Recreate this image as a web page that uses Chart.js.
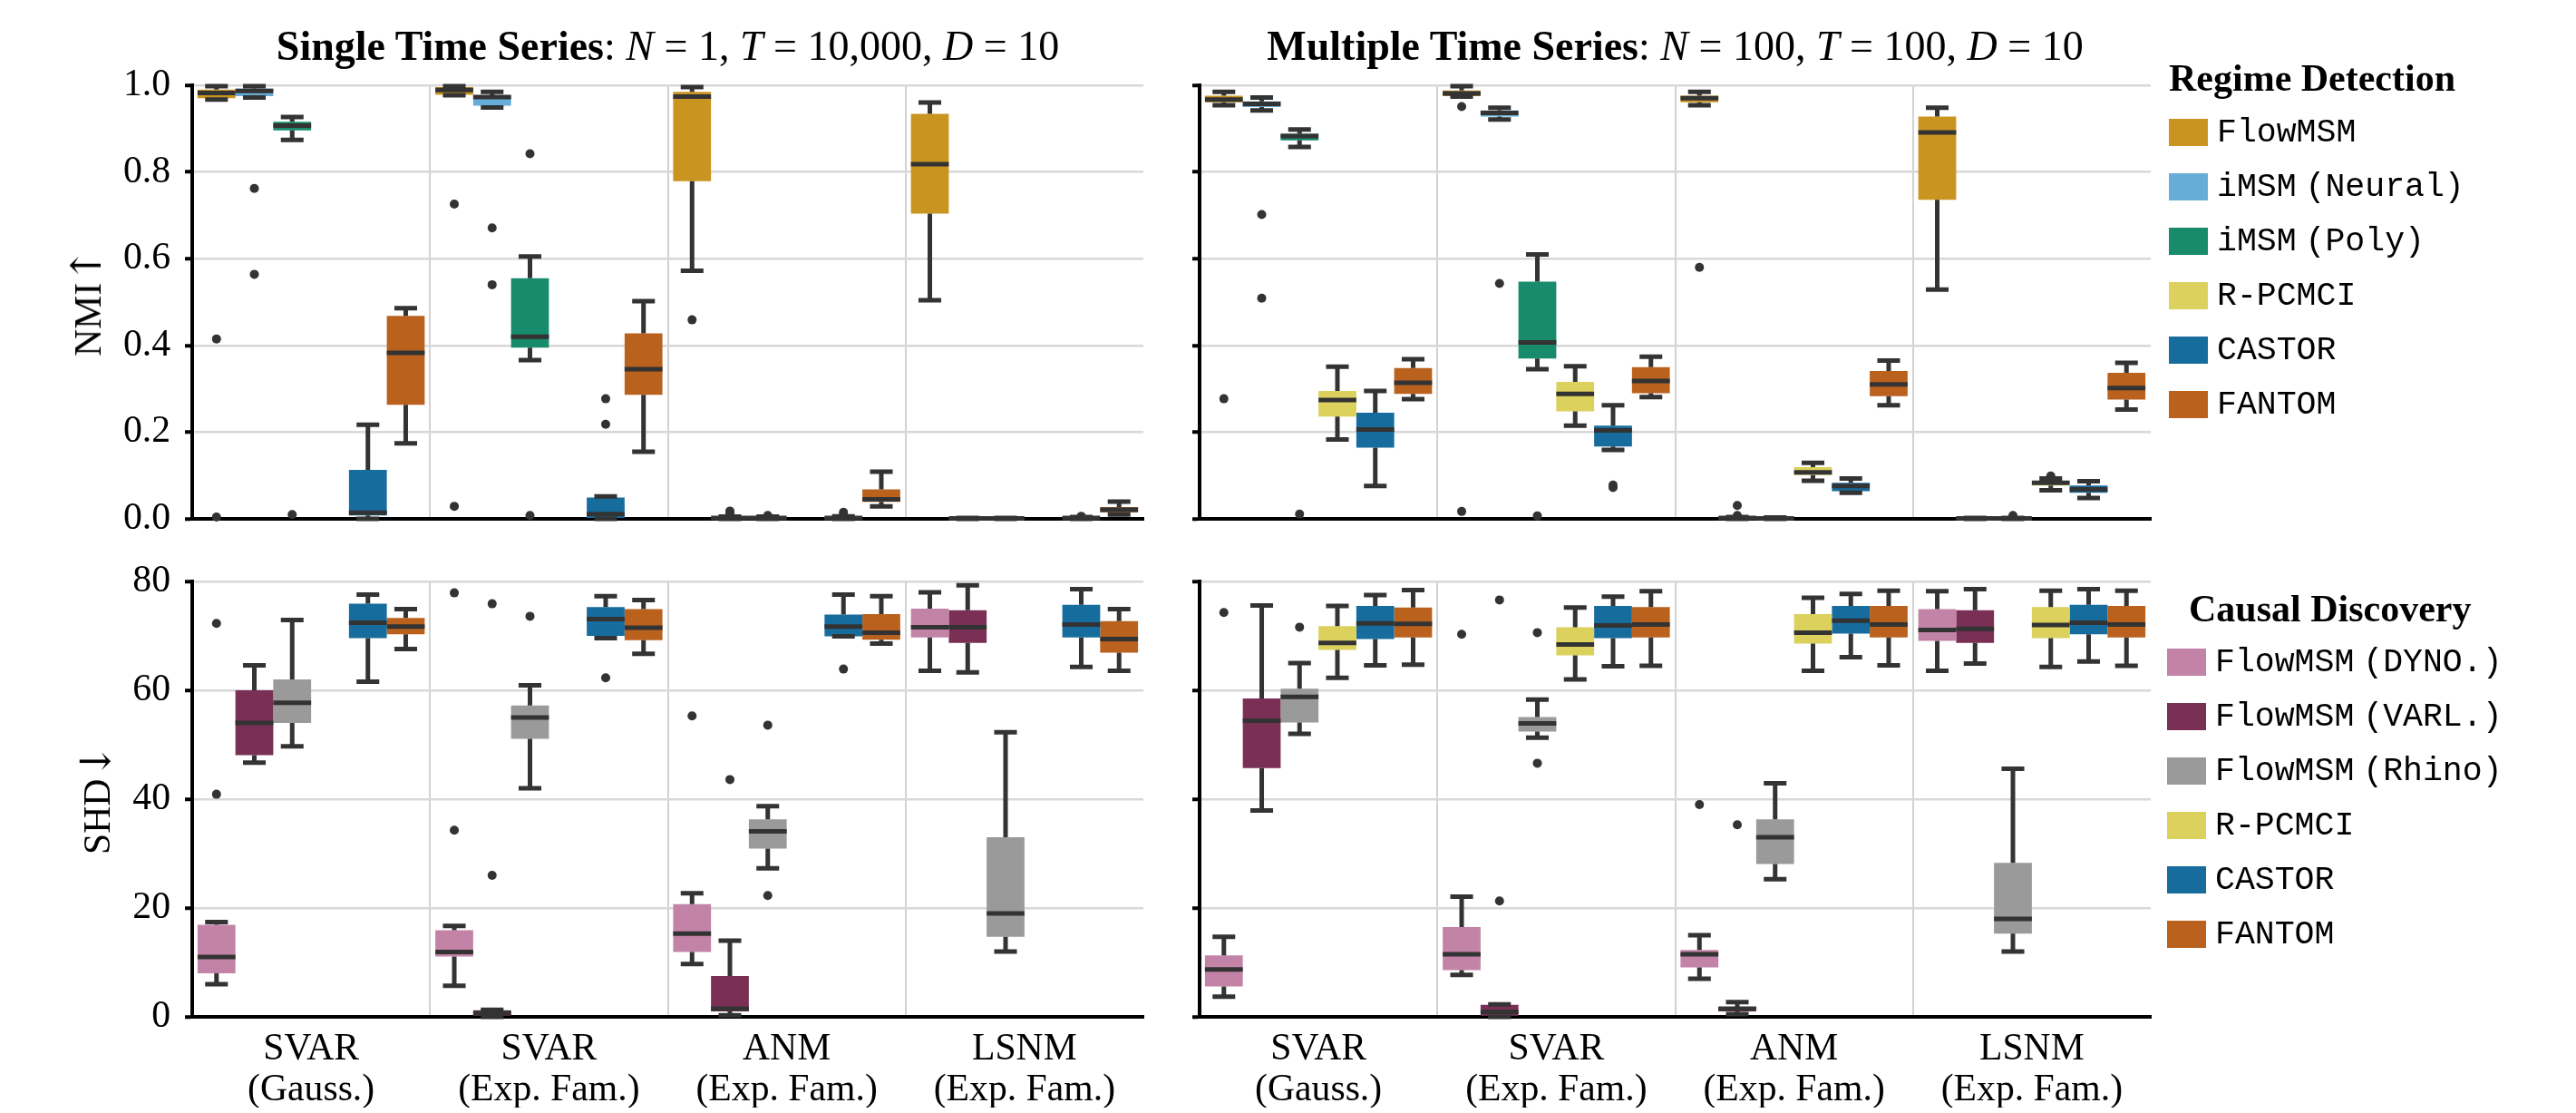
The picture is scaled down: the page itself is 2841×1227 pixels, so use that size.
<!DOCTYPE html>
<html>
<head>
<meta charset="utf-8">
<script src="https://cdn.jsdelivr.net/npm/chart.js@4.4.1/dist/chart.umd.min.js"></script>
<style>
  body { margin: 0; background: #fff; }
  #page { position: relative; width: 2841px; height: 1227px; overflow: hidden; }
  canvas.panel { position: absolute; left: 0; top: 0; pointer-events: none; }
  .title { position: absolute; top: 23px; height: 56px; line-height: 56px; text-align: center;
           font-family: 'Liberation Serif', serif; font-size: 46px; color: #000; white-space: nowrap; }
  .ylab { position: absolute; font-family: 'Liberation Serif', serif; font-size: 41.7px; line-height: 48px;
          color: #000; white-space: nowrap; transform: translate(-50%, -50%) rotate(-90deg); }
  .ylab .arr { font-family: 'DejaVu Serif', serif; font-size: 46px; }
  .legend { position: absolute; font-family: 'Liberation Serif', serif; color: #000; }
  .legend h3 { margin: 0; font-size: 42px; font-weight: bold; line-height: 48px; white-space: nowrap; }
  .legend .item { position: absolute; left: 0; height: 30px; display: flex; align-items: center; white-space: nowrap; }
  .legend .patch { width: 43px; height: 30px; margin-right: 10px; }
  .legend .lbl { font-family: 'Liberation Mono', monospace; font-size: 36.5px; word-spacing: -12px; }
</style>
</head>
<body>
<div id="page">
  <canvas class="panel" id="nmiSingleChart" width="2841" height="1227"></canvas>
  <canvas class="panel" id="nmiMultiChart" width="2841" height="1227"></canvas>
  <canvas class="panel" id="shdSingleChart" width="2841" height="1227"></canvas>
  <canvas class="panel" id="shdMultiChart" width="2841" height="1227"></canvas>
  <div class="title" style="left:212px;width:1049px"><b>Single Time Series</b>: <i>N</i> = 1, <i>T</i> = 10,000, <i>D</i> = 10</div>
  <div class="title" style="left:1323px;width:1049px"><b>Multiple Time Series</b>: <i>N</i> = 100, <i>T</i> = 100, <i>D</i> = 10</div>
  <div class="ylab" style="left:96px;top:333px">NMI<span class="arr">↑</span></div>
  <div class="ylab" style="left:106px;top:881px">SHD<span class="arr">↓</span></div>
  <div class="legend" id="regimeLegend" style="left:2392px;top:62px"></div>
  <div class="legend" id="causalLegend" style="left:2390px;top:647px"></div>
</div>
<script>
// --- data: each cell is [lower whisker, Q1, median, Q3, upper whisker] ---
const categories = [['SVAR', '(Gauss.)'], ['SVAR', '(Exp. Fam.)'], ['ANM', '(Exp. Fam.)'], ['LSNM', '(Exp. Fam.)']];

const regimeMethods = ['FlowMSM', 'iMSM (Neural)', 'iMSM (Poly)', 'R-PCMCI', 'CASTOR', 'FANTOM'];
const regimeColors = ['#c99520', '#66aed7', '#178b6b', '#dbd15c', '#176c9e', '#ba611e'];
const causalMethods = ['FlowMSM (DYNO.)', 'FlowMSM (VARL.)', 'FlowMSM (Rhino)', 'R-PCMCI', 'CASTOR', 'FANTOM'];
const causalColors = ['#c383a7', '#7a2f55', '#9a9a9a', '#dbd15c', '#176c9e', '#ba611e'];

const nmiTicks = [0, 0.2, 0.4, 0.6, 0.8, 1.0];
const shdTicks = [0, 20, 40, 60, 80];

const nmiSingle = [
  [[0.967, 0.970, 0.982, 0.990, 0.998], [0.977, 0.978, 0.989, 0.996, 0.998], [0.572, 0.779, 0.974, 0.985, 0.996], [0.504, 0.704, 0.818, 0.934, 0.960]],
  [[0.972, 0.975, 0.987, 0.992, 0.998], [0.949, 0.953, 0.973, 0.977, 0.985], [0, 0.001, 0.002, 0.003, 0.005], [0, 0, 0.001, 0.001, 0.002]],
  [[0.874, 0.896, 0.907, 0.916, 0.927], [0.366, 0.395, 0.420, 0.555, 0.605], [0, 0.001, 0.002, 0.003, 0.005], [0, 0, 0.001, 0.001, 0.002]],
  [null, null, null, null],
  [[0, 0.008, 0.014, 0.113, 0.217], [0, 0.002, 0.011, 0.049, 0.052], [0, 0.001, 0.002, 0.004, 0.006], [0, 0.001, 0.002, 0.003, 0.004]],
  [[0.174, 0.263, 0.383, 0.468, 0.486], [0.155, 0.286, 0.345, 0.428, 0.502], [0.029, 0.039, 0.045, 0.068, 0.109], [0.010, 0.015, 0.021, 0.027, 0.040]]
];
const nmiSingleOut = [
  [[0.415, 0.004], [0.726, 0.029], [0.459], []],
  [[0.762, 0.564], [0.671, 0.540], [0.018, 0.012], []],
  [[0.010], [0.842, 0.008], [0.008], []],
  [[], [], [], []],
  [[], [0.277, 0.218], [0.015, 0.010], [0.006]],
  [[], [], [], []]
];

const nmiMulti = [
  [[0.954, 0.961, 0.967, 0.976, 0.985], [0.974, 0.975, 0.981, 0.988, 0.998], [0.954, 0.961, 0.970, 0.976, 0.985], [0.529, 0.736, 0.891, 0.928, 0.948]],
  [[0.942, 0.950, 0.957, 0.963, 0.972], [0.921, 0.928, 0.936, 0.942, 0.948], [0, 0.001, 0.002, 0.003, 0.004], [0, 0, 0.001, 0.001, 0.002]],
  [[0.858, 0.873, 0.883, 0.888, 0.898], [0.345, 0.370, 0.407, 0.547, 0.610], [0, 0, 0.001, 0.002, 0.003], [0, 0, 0.001, 0.001, 0.002]],
  [[0.183, 0.236, 0.274, 0.295, 0.351], [0.215, 0.248, 0.288, 0.316, 0.352], [0.088, 0.101, 0.107, 0.119, 0.129], [0.066, 0.077, 0.083, 0.087, 0.093]],
  [[0.076, 0.164, 0.206, 0.245, 0.295], [0.159, 0.167, 0.204, 0.215, 0.262], [0.060, 0.064, 0.076, 0.083, 0.093], [0.048, 0.060, 0.068, 0.077, 0.087]],
  [[0.276, 0.288, 0.314, 0.348, 0.368], [0.281, 0.290, 0.318, 0.350, 0.374], [0.262, 0.283, 0.310, 0.341, 0.365], [0.252, 0.275, 0.302, 0.337, 0.360]]
];
const nmiMultiOut = [
  [[0.277], [0.951, 0.017], [0.580], []],
  [[0.702, 0.509], [0.543], [0.031, 0.008], []],
  [[0.011], [0.007], [], [0.008]],
  [[], [], [], [0.099]],
  [[], [0.078, 0.072], [], []],
  [[], [], [], []]
];

const shdSingle = [
  [[6.0, 8.0, 11.0, 16.9, 17.4], [5.7, 11.1, 11.9, 15.9, 16.7], [9.7, 11.9, 15.3, 20.7, 22.7], [63.6, 69.7, 71.6, 75.0, 78.0]],
  [[46.7, 48.1, 54.0, 60.0, 64.6], [0, 0.2, 0.7, 1.2, 1.3], [0.3, 1.0, 1.5, 7.5, 14.0], [63.3, 68.7, 71.6, 74.7, 79.3]],
  [[49.7, 54.0, 57.7, 62.0, 72.9], [42.0, 51.1, 55.0, 57.2, 60.9], [27.3, 30.9, 34.1, 36.3, 38.7], [12.0, 14.7, 19.0, 33.0, 52.3]],
  [null, null, null, null],
  [[61.6, 69.6, 72.4, 75.9, 77.6], [69.6, 70.0, 73.1, 75.3, 77.3], [69.9, 69.9, 71.7, 73.9, 77.6], [64.3, 69.7, 72.1, 75.7, 78.6]],
  [[67.6, 70.3, 71.7, 73.3, 74.9], [66.7, 69.2, 71.5, 74.9, 76.6], [68.6, 69.3, 70.6, 74.0, 77.3], [63.6, 66.9, 69.4, 72.7, 74.9]]
];
const shdSingleOut = [
  [[72.3, 40.9], [77.9, 34.3], [55.3], []],
  [[], [75.9, 26.0], [43.6], []],
  [[], [73.6], [53.6, 22.3], []],
  [[], [], [], []],
  [[], [62.3], [63.9], []],
  [[], [], [], []]
];

const shdMulti = [
  [[3.7, 5.6, 8.7, 11.3, 14.7], [7.7, 8.6, 11.5, 16.5, 22.1], [7.0, 9.1, 11.5, 12.3, 15.0], [63.6, 69.1, 71.1, 74.9, 78.2]],
  [[37.9, 45.7, 54.4, 58.5, 75.6], [0, 0.2, 0.9, 2.2, 2.3], [0.5, 1.0, 1.5, 1.8, 2.7], [64.9, 68.7, 71.3, 74.7, 78.6]],
  [[52.0, 54.1, 58.8, 60.3, 65.0], [51.3, 52.4, 53.9, 55.1, 58.3], [25.3, 28.1, 33.0, 36.3, 42.9], [12.0, 15.3, 18.0, 28.3, 45.6]],
  [[62.3, 67.4, 68.7, 71.8, 75.5], [62.0, 66.4, 68.4, 71.6, 75.2], [63.6, 68.6, 70.6, 74.0, 77.0], [64.3, 69.6, 72.0, 75.3, 78.3]],
  [[64.6, 69.4, 72.3, 75.5, 77.5], [64.4, 69.6, 71.9, 75.5, 77.2], [66.1, 70.4, 72.8, 75.5, 77.7], [65.3, 70.3, 72.4, 75.7, 78.6]],
  [[64.7, 69.7, 72.2, 75.2, 78.4], [64.5, 69.7, 72.1, 75.3, 78.2], [64.6, 69.7, 72.1, 75.5, 78.3], [64.5, 69.7, 72.1, 75.5, 78.3]]
];
const shdMultiOut = [
  [[74.3], [70.3], [39.0], []],
  [[], [76.6, 21.3], [35.3], []],
  [[71.6], [70.6, 46.6], [], []],
  [[], [], [], []],
  [[], [], [], []],
  [[], [], [], []]
];

// --- drawing ---
const DARK = '#333333';
const SERIF = "'Liberation Serif', 'Times New Roman', serif";

// whiskers, caps, medians and fliers on top of the floating bars
const boxParts = {
  id: 'boxParts',
  afterDatasetsDraw(chart) {
    const ctx = chart.ctx;
    const y = chart.scales.y;
    chart.data.datasets.forEach((ds, di) => {
      chart.getDatasetMeta(di).data.forEach((bar, i) => {
        const s = ds.stats[i];
        if (!s) return;
        const x = bar.x, w = bar.width;
        const [pLo, pQ1, pMed, pQ3, pHi] = s.map(v => y.getPixelForValue(v));
        ctx.save();
        ctx.strokeStyle = DARK;
        ctx.lineCap = 'butt';
        ctx.lineWidth = 5;
        ctx.beginPath();
        ctx.moveTo(x, pQ3); ctx.lineTo(x, pHi);
        ctx.moveTo(x, pQ1); ctx.lineTo(x, pLo);
        ctx.moveTo(x - w * 0.3, pHi); ctx.lineTo(x + w * 0.3, pHi);
        ctx.moveTo(x - w * 0.3, pLo); ctx.lineTo(x + w * 0.3, pLo);
        ctx.stroke();
        ctx.beginPath();
        ctx.moveTo(x - w / 2, pMed); ctx.lineTo(x + w / 2, pMed);
        ctx.stroke();
        ctx.fillStyle = DARK;
        ds.outliers[i].forEach(v => {
          ctx.beginPath();
          ctx.arc(x, y.getPixelForValue(v), 5, 0, Math.PI * 2);
          ctx.fill();
        });
        ctx.restore();
      });
    });
  }
};

function makePanel(id, cfg) {
  const datasets = cfg.methods.map((m, k) => ({
    label: m,
    data: cfg.stats[k].map(c => c ? [c[1], c[3]] : null),
    stats: cfg.stats[k],
    outliers: cfg.outliers[k],
    backgroundColor: cfg.colors[k],
    borderWidth: 0,
    categoryPercentage: 0.955,
    barPercentage: 1.0
  }));
  const yW = cfg.left ? 162 : 12;
  const xH = cfg.bottom ? 100 : 4;
  new Chart(document.getElementById(id), {
    type: 'bar',
    data: { labels: categories, datasets },
    options: {
      responsive: false,
      animation: false,
      events: [],
      layout: {
        padding: {
          left: cfg.area[0] - yW,
          top: cfg.area[1],
          right: 2841 - cfg.area[2],
          bottom: 1227 - cfg.area[3] - xH
        }
      },
      plugins: { legend: { display: false }, tooltip: { enabled: false } },
      scales: {
        x: {
          afterFit: s => { s.height = xH; },
          grid: {
            offset: true,
            drawTicks: false,
            lineWidth: 2,
            color: c => (c.index >= 1 && c.index <= 3) ? '#d2d2d2' : 'rgba(0,0,0,0)'
          },
          border: { display: true, color: '#000', width: 4 },
          ticks: {
            display: cfg.bottom,
            padding: 14,
            color: '#000',
            maxRotation: 0,
            autoSkip: false,
            font: { family: SERIF, size: 41.7, lineHeight: 1.08 }
          }
        },
        y: {
          min: cfg.ticks[0],
          max: cfg.ticks[cfg.ticks.length - 1],
          afterFit: s => { s.width = yW; },
          afterBuildTicks: s => { s.ticks = cfg.ticks.map(v => ({ value: v })); },
          grid: {
            color: '#d8d8d8',
            lineWidth: 2.5,
            tickColor: '#000',
            tickLength: 8,
            tickWidth: 4
          },
          border: { display: true, color: '#000', width: 4 },
          ticks: {
            display: cfg.left,
            padding: 16,
            color: '#000',
            font: { family: SERIF, size: 41.7 },
            callback: v => cfg.fmt(v)
          }
        }
      }
    },
    plugins: [boxParts]
  });
}

makePanel('nmiSingleChart', {
  methods: regimeMethods, colors: regimeColors, stats: nmiSingle, outliers: nmiSingleOut,
  ticks: nmiTicks, fmt: v => v.toFixed(1),
  area: [212, 94, 1261, 572], left: true, bottom: false
});
makePanel('nmiMultiChart', {
  methods: regimeMethods, colors: regimeColors, stats: nmiMulti, outliers: nmiMultiOut,
  ticks: nmiTicks, fmt: v => v.toFixed(1),
  area: [1323, 94, 2372, 572], left: false, bottom: false
});
makePanel('shdSingleChart', {
  methods: causalMethods, colors: causalColors, stats: shdSingle, outliers: shdSingleOut,
  ticks: shdTicks, fmt: v => String(v),
  area: [212, 641, 1261, 1121], left: true, bottom: true
});
makePanel('shdMultiChart', {
  methods: causalMethods, colors: causalColors, stats: shdMulti, outliers: shdMultiOut,
  ticks: shdTicks, fmt: v => String(v),
  area: [1323, 641, 2372, 1121], left: false, bottom: true
});

// --- legends (HTML) ---
function buildLegend(elId, title, methods, colors, firstCenter, titleIndent) {
  const el = document.getElementById(elId);
  const h = document.createElement('h3');
  h.textContent = title;
  h.style.marginLeft = titleIndent + 'px';
  el.appendChild(h);
  methods.forEach((m, k) => {
    const row = document.createElement('div');
    row.className = 'item';
    row.style.top = (firstCenter + k * 60 - 15) + 'px';
    row.innerHTML = '<span class="patch" style="background:' + colors[k] + '"></span><span class="lbl"></span>';
    row.querySelector('.lbl').textContent = m;
    el.appendChild(row);
  });
}
buildLegend('regimeLegend', 'Regime Detection', regimeMethods, regimeColors, 84, 0);
buildLegend('causalLegend', 'Causal Discovery', causalMethods, causalColors, 83, 24);
</script>
</body>
</html>
